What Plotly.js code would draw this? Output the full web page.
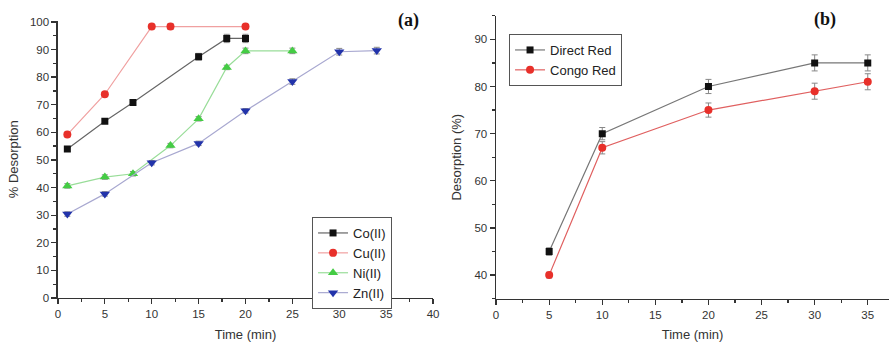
<!DOCTYPE html>
<html><head><meta charset="utf-8">
<script src="https://cdn.plot.ly/plotly-3.0.1.min.js"></script>
<style>html,body{margin:0;padding:0;background:#fff}#c{width:889px;height:342px}</style>
</head><body><div id="c"></div>
<script>
// Panel (a)
const coX = [1, 5, 8, 15, 18, 20];
const coY = [54, 64, 70.8, 87.4, 94, 94];
const coE = [0.8, 0.8, 0.8, 1.2, 1.5, 1.5];
const cuX = [1, 5, 10, 12, 20];
const cuY = [59.2, 73.8, 98.3, 98.3, 98.3];
const cuE = [0.8, 0.8, 0.8, 1.0, 0.8];
const niX = [1, 5, 8, 12, 15, 18, 20, 25];
const niY = [40.6, 43.8, 45, 55.2, 64.9, 83.5, 89.5, 89.5];
const niE = [0.8, 0.8, 0.8, 0.8, 0.8, 0.8, 1.0, 1.0];
const znX = [1, 5, 10, 15, 20, 25, 30, 34];
const znY = [30.4, 37.7, 49, 56, 67.8, 78.4, 89.2, 89.6];
const znE = [0.8, 0.8, 0.8, 0.8, 0.8, 1.0, 1.2, 1.2];
// Panel (b)
const dyeX = [5, 10, 20, 30, 35];
const drY = [45, 70, 80, 85, 85];
const drE = [0.8, 1.3, 1.5, 1.7, 1.7];
const crY = [40, 67, 75, 79, 81];
const crE = [0.6, 1.3, 1.5, 1.7, 1.7];

function tr(x, y, e, name, mc, lc, sym, size, xa, ya, leg) {
  return {x: x, y: y, name: name, type: 'scatter', mode: 'lines+markers',
    xaxis: xa, yaxis: ya, legend: leg,
    line: {color: lc, width: 1.2},
    marker: {color: mc, symbol: sym, size: size},
    error_y: {type: 'data', array: e, visible: true, color: '#888', thickness: 1, width: 3}};
}
const data = [
  tr(coX, coY, coE, 'Co(II)', '#111111', '#666666', 'square', 7, 'x', 'y', 'legend'),
  tr(cuX, cuY, cuE, 'Cu(II)', '#e8302a', '#f0a0a0', 'circle', 8, 'x', 'y', 'legend'),
  tr(niX, niY, niE, 'Ni(II)', '#44cc44', '#99dd99', 'triangle-up', 9, 'x', 'y', 'legend'),
  tr(znX, znY, znE, 'Zn(II)', '#2233aa', '#a8a8d0', 'triangle-down', 9, 'x', 'y', 'legend'),
  tr(dyeX, drY, drE, 'Direct Red', '#111111', '#777777', 'square', 7, 'x2', 'y2', 'legend2'),
  tr(dyeX, crY, crE, 'Congo Red', '#e8302a', '#e06060', 'circle', 8, 'x2', 'y2', 'legend2')
];
const tf = {family: 'Arial, Liberation Sans, sans-serif', size: 11.5, color: '#333'};
const ttf = {family: 'Arial, Liberation Sans, sans-serif', size: 13, color: '#333'};
function ax(extra) {
  return Object.assign({showgrid: false, zeroline: false, showline: true, linecolor: '#333', linewidth: 1.5,
    ticks: 'outside', ticklen: 5, tickwidth: 1.3, tickcolor: '#333', tickfont: tf, mirror: false}, extra);
}
const layout = {
  width: 889, height: 342, paper_bgcolor: '#fff', plot_bgcolor: '#fff',
  margin: {l: 0, r: 0, t: 0, b: 0},
  font: {family: 'Arial, Liberation Sans, sans-serif', color: '#333'},
  xaxis: ax({domain: [0.0652, 0.4871], range: [0, 40], dtick: 5, anchor: 'y',
    minor: {ticks: 'outside', ticklen: 3, dtick: 2.5, tickcolor: '#333'},
    title: {text: 'Time (min)', font: ttf, standoff: 11}}),
  yaxis: ax({domain: [0.1287, 0.94], range: [0, 100.5], dtick: 10, anchor: 'x',
    minor: {ticks: 'outside', ticklen: 3, dtick: 5, tickcolor: '#333'},
    title: {text: '% Desorption', font: ttf, standoff: 8}}),
  xaxis2: ax({domain: [0.558, 1.0], range: [0, 37], dtick: 5, anchor: 'y2',
    minor: {ticks: 'outside', ticklen: 3, dtick: 2.5, tickcolor: '#333'},
    title: {text: 'Time (min)', font: ttf, standoff: 11}}),
  yaxis2: ax({domain: [0.1266, 0.954], range: [35, 95], dtick: 10, anchor: 'x2',
    minor: {ticks: 'outside', ticklen: 3, dtick: 5, tickcolor: '#333'},
    title: {text: 'Desorption (%)', font: ttf, standoff: 10}}),
  legend: {x: 0.351, y: 0.3655, xanchor: 'left', yanchor: 'top', bordercolor: '#555', borderwidth: 1,
    bgcolor: '#fff', font: {size: 13, color: '#222'}, itemwidth: 30},
  legend2: {x: 0.5726, y: 0.9006, xanchor: 'left', yanchor: 'top', bordercolor: '#555', borderwidth: 1,
    bgcolor: '#fff', font: {size: 13, color: '#222'}, itemwidth: 30},
  annotations: [
    {text: '<b>(a)</b>', xref: 'paper', yref: 'paper', x: 0.459, y: 0.94, xanchor: 'center', yanchor: 'middle',
      showarrow: false, font: {family: 'Liberation Serif, Times New Roman, serif', size: 18, color: '#111'}},
    {text: '<b>(b)</b>', xref: 'paper', yref: 'paper', x: 0.928, y: 0.944, xanchor: 'center', yanchor: 'middle',
      showarrow: false, font: {family: 'Liberation Serif, Times New Roman, serif', size: 18, color: '#111'}}
  ],
  showlegend: true
};
Plotly.newPlot('c', data, layout, {staticPlot: true});
</script></body></html>
